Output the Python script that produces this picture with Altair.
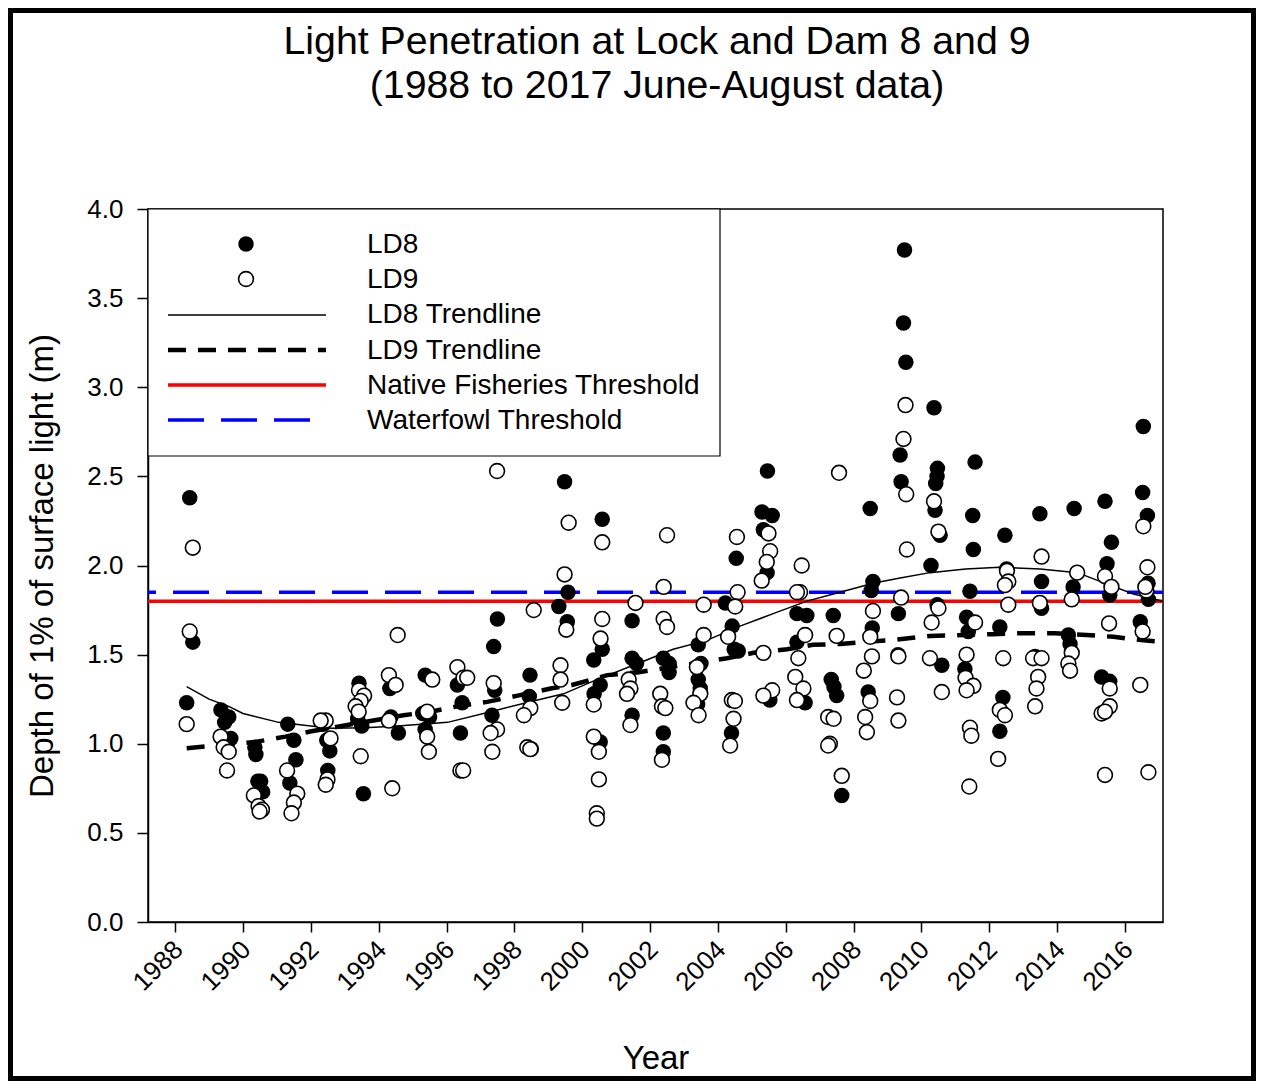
import altair as alt
import pandas as pd

# ---------------- data ----------------
ld8_year = [1988.43, 1988.52, 1988.34,
            1989.35, 1989.58, 1989.46, 1989.64,
            1990.35, 1990.38, 1990.52, 1990.44, 1990.58,
            1991.32, 1991.50, 1991.56, 1991.38,
            1992.38, 1992.47, 1992.56, 1992.50,
            1993.42, 1993.38, 1993.50, 1993.55,
            1994.33, 1994.36, 1994.58,
            1995.37, 1995.30, 1995.50, 1995.37,
            1996.32, 1996.46, 1996.41,
            1997.50, 1997.39, 1997.42, 1997.34,
            1998.46, 1998.44, 1998.50,
            1999.48, 1999.58, 1999.31, 1999.56,
            2000.59, 2000.59, 2000.34, 2000.53, 2000.35, 2000.53,
            2001.47, 2001.47, 2001.60, 2001.47,
            2002.39, 2002.56, 2002.56, 2002.39, 2002.39,
            2003.42, 2003.50, 2003.42, 2003.48, 2003.40,
            2004.54, 2004.22, 2004.42, 2004.48, 2004.60, 2004.40,
            2005.46, 2005.30, 2005.60, 2005.34, 2005.45, 2005.53,
            2006.33, 2006.62, 2006.33, 2006.57,
            2007.40, 2007.34, 2007.42, 2007.50, 2007.65,
            2008.49, 2008.57, 2008.52, 2008.55, 2008.43,
            2009.50, 2009.47, 2009.54, 2009.37, 2009.40, 2009.32, 2009.31,
            2010.37, 2010.47, 2010.46, 2010.42, 2010.40, 2010.55, 2010.28, 2010.46, 2010.60,
            2011.58, 2011.51, 2011.53, 2011.43, 2011.33, 2011.38, 2011.28,
            2012.46, 2012.51, 2012.31, 2012.40, 2012.31,
            2013.49, 2013.54, 2013.54, 2013.35,
            2014.50, 2014.47, 2014.33, 2014.38,
            2015.41, 2015.60, 2015.47, 2015.55, 2015.31, 2015.55,
            2016.54, 2016.52, 2016.66, 2016.68, 2016.69, 2016.45]
ld8_depth = [2.38, 1.57, 1.23,
             1.19, 1.15, 1.12, 1.03,
             0.98, 0.94, 0.79, 0.79, 0.73,
             1.11, 1.02, 0.91, 0.78,
             1.11, 1.02, 0.96, 0.85,
             1.34, 1.14, 1.10, 0.72,
             1.31, 1.15, 1.06,
             1.385, 1.17, 1.15, 1.08,
             1.33, 1.23, 1.06,
             1.70, 1.545, 1.30, 1.16,
             1.385, 1.265, 0.97,
             2.47, 1.85, 1.77, 1.685,
             2.26, 1.53, 1.47, 1.33, 1.28, 1.01,
             1.69, 1.48, 1.45, 1.16,
             1.48, 1.45, 1.40, 1.06, 0.955,
             1.555, 1.45, 1.36, 1.31, 1.22,
             2.04, 1.79, 1.66, 1.53, 1.52, 1.06,
             2.53, 2.30, 2.28, 2.20, 1.96, 1.245,
             1.73, 1.72, 1.57, 1.23,
             1.72, 1.36, 1.32, 1.27, 0.71,
             2.32, 1.91, 1.86, 1.65, 1.29,
             3.77, 3.36, 3.14, 2.62, 2.47, 1.73, 1.50,
             2.885, 2.545, 2.50, 2.46, 2.31, 2.17, 2.00, 1.78, 1.44,
             2.58, 2.28, 2.09, 1.855, 1.71, 1.63, 1.42,
             2.17, 1.98, 1.655, 1.26, 1.07,
             2.29, 1.91, 1.76, 1.49,
             2.32, 1.88, 1.61, 1.56,
             2.36, 2.13, 2.01, 1.835, 1.375, 1.35,
             2.78, 2.41, 2.28, 1.90, 1.81, 1.685]

ld9_year = [1988.52, 1988.43, 1988.34,
            1989.34, 1989.43, 1989.58, 1989.53,
            1990.32, 1990.46, 1990.56, 1990.49,
            1991.30, 1991.60, 1991.50, 1991.43,
            1992.44, 1992.29, 1992.58, 1992.49, 1992.44,
            1993.42, 1993.57, 1993.47, 1993.32, 1993.41, 1993.47,
            1994.56, 1994.30, 1994.50, 1994.30, 1994.40,
            1995.58, 1995.43, 1995.43, 1995.48,
            1996.32, 1996.50, 1996.61, 1996.41, 1996.49,
            1997.49, 1997.39, 1997.49, 1997.30, 1997.35,
            1998.57, 1998.47, 1998.28, 1998.38, 1998.47,
            1999.60, 1999.48, 1999.53, 1999.36, 1999.36, 1999.41,
            2000.59, 2000.59, 2000.54, 2000.34, 2000.34, 2000.49, 2000.49, 2000.43, 2000.43,
            2001.57, 2001.37, 2001.42, 2001.32, 2001.42,
            2002.50, 2002.40, 2002.40, 2002.50, 2002.30, 2002.35, 2002.45, 2002.35,
            2003.58, 2003.58, 2003.38, 2003.48, 2003.28, 2003.43,
            2004.56, 2004.58, 2004.51, 2004.30, 2004.41, 2004.50, 2004.46, 2004.36,
            2005.49, 2005.54, 2005.44, 2005.29, 2005.34, 2005.60, 2005.34,
            2006.47, 2006.42, 2006.33, 2006.57, 2006.37, 2006.28, 2006.52, 2006.33,
            2007.57, 2007.50, 2007.25, 2007.41, 2007.30, 2007.25, 2007.65,
            2008.57, 2008.49, 2008.54, 2008.30, 2008.49, 2008.34, 2008.39,
            2009.53, 2009.47, 2009.55, 2009.57, 2009.40, 2009.32, 2009.28, 2009.32,
            2010.37, 2010.50, 2010.50, 2010.30, 2010.25, 2010.60,
            2011.58, 2011.33, 2011.30, 2011.53, 2011.33, 2011.43, 2011.47, 2011.41,
            2012.52, 2012.56, 2012.46, 2012.56, 2012.41, 2012.31, 2012.46, 2012.26,
            2013.54, 2013.49, 2013.29, 2013.54, 2013.44, 2013.39, 2013.35,
            2014.59, 2014.43, 2014.43, 2014.33, 2014.38,
            2015.41, 2015.60, 2015.53, 2015.55, 2015.55, 2015.31, 2015.41, 2015.41,
            2016.54, 2016.66, 2016.63, 2016.60, 2016.52, 2016.45, 2016.69]
ld9_depth = [2.10, 1.63, 1.11,
             1.04, 0.98, 0.955, 0.85,
             0.71, 0.65, 0.63, 0.62,
             0.85, 0.72, 0.67, 0.61,
             1.13, 1.13, 1.03, 0.80, 0.77,
             1.30, 1.27, 1.24, 1.21, 1.18, 0.93,
             1.61, 1.385, 1.33, 1.13, 0.75,
             1.36, 1.18, 1.04, 0.955,
             1.43, 1.37, 1.37, 0.85, 0.85,
             2.53, 1.34, 1.08, 1.06, 0.955,
             1.75, 1.20, 1.16, 0.98, 0.97,
             2.24, 1.95, 1.64, 1.44, 1.36, 1.23,
             2.13, 1.70, 1.59, 1.22, 1.04, 0.955, 0.80, 0.61, 0.58,
             1.79, 1.36, 1.31, 1.28, 1.105,
             2.17, 1.88, 1.70, 1.655, 1.28, 1.21, 1.20, 0.91,
             1.78, 1.61, 1.43, 1.28, 1.23, 1.16,
             2.16, 1.85, 1.77, 1.60, 1.245, 1.24, 1.14, 0.99,
             2.18, 2.08, 2.02, 1.915, 1.51, 1.30, 1.27,
             2.00, 1.85, 1.85, 1.61, 1.48, 1.375, 1.31, 1.245,
             2.52, 1.605, 1.15, 1.14, 1.00, 0.99, 0.82,
             1.745, 1.60, 1.49, 1.41, 1.24, 1.15, 1.065,
             2.90, 2.71, 2.40, 2.09, 1.82, 1.49, 1.26, 1.13,
             2.36, 2.19, 1.76, 1.68, 1.48, 1.29,
             1.68, 1.50, 1.37, 1.325, 1.30, 1.09, 1.045, 0.76,
             1.97, 1.91, 1.89, 1.78, 1.48, 1.19, 1.16, 0.915,
             2.05, 1.79, 1.48, 1.48, 1.375, 1.31, 1.21,
             1.96, 1.81, 1.51, 1.45, 1.41,
             1.94, 1.88, 1.675, 1.31, 1.21, 1.17, 1.18, 0.825,
             2.22, 1.99, 1.86, 1.88, 1.63, 1.33, 0.84]

# trendlines
ld8_trend_year = [1988.34, 1989.0, 1989.58, 1990.0, 1991.05, 1992.0, 1992.6, 1993.6,
                  1994.56, 1996.03, 1997.3, 1998.47, 1999.45, 2000.43, 2001.9,
                  2002.68, 2003.67, 2004.65, 2005.63, 2006.62, 2007.6, 2008.57,
                  2009.37, 2010.25, 2011.3, 2012.3, 2013.5, 2014.6, 2015.55,
                  2016.25, 2017.12]
ld8_trend_depth = [1.32, 1.25, 1.21, 1.17, 1.12, 1.10, 1.087, 1.09,
                   1.10, 1.12, 1.18, 1.236, 1.28, 1.36, 1.47,
                   1.53, 1.58, 1.66, 1.73, 1.80, 1.85, 1.90,
                   1.93, 1.96, 1.98, 1.99, 1.98, 1.96, 1.89,
                   1.84, 1.80]
ld9_trend_year = [1988.34, 1990.37, 1991.25, 1992.02, 1994.13, 1994.73, 1995.53,
                  1996.32, 1997.2, 1998.1, 1999.07, 1999.7, 2000.74, 2001.62,
                  2004.27, 2005.05, 2006.04, 2006.8, 2007.6, 2009.28, 2010.25,
                  2012.1, 2012.9, 2013.9, 2014.86, 2015.66, 2016.54, 2017.19]
ld9_trend_depth = [0.975, 1.01, 1.04, 1.07, 1.14, 1.16, 1.18,
                   1.21, 1.235, 1.27, 1.31, 1.33, 1.385, 1.40,
                   1.48, 1.51, 1.53, 1.555, 1.56, 1.585, 1.605,
                   1.615, 1.62, 1.62, 1.61, 1.60, 1.58, 1.57]

native_fisheries = 1.80
waterfowl = 1.85

x_ticks = list(range(1988, 2017, 2))
y_ticks = [0.0, 0.5, 1.0, 1.5, 2.0, 2.5, 3.0, 3.5, 4.0]

title_lines = ["Light Penetration at Lock and Dam 8 and 9", "(1988 to 2017 June-August data)"]
legend_labels = ["LD8", "LD9", "LD8 Trendline", "LD9 Trendline",
                 "Native Fisheries Threshold", "Waterfowl Threshold"]

# ---------------- chart ----------------
FONT = "Liberation Sans"
W, H = 1015, 713

ld8 = pd.DataFrame({"year": ld8_year, "depth": ld8_depth})
ld9 = pd.DataFrame({"year": ld9_year, "depth": ld9_depth})
t8 = pd.DataFrame({"year": ld8_trend_year, "depth": ld8_trend_depth})
t9 = pd.DataFrame({"year": ld9_trend_year, "depth": ld9_trend_depth})
thr = pd.DataFrame({"native": [native_fisheries], "water": [waterfowl]})

xscale = alt.Scale(domain=[1987.2, 2017.12], nice=False, zero=False)
yscale = alt.Scale(domain=[0, 4], nice=False)

xaxis = alt.Axis(values=x_ticks, format="d", labelAngle=-45, labelAlign="right",
                 labelBaseline="top", labelPadding=4, labelOffset=-6, tickSize=10,
                 tickWidth=1.5, domainWidth=1.5, domainColor="black", tickColor="black",
                 labelFont=FONT, labelFontSize=26, labelColor="black", grid=False,
                 title="Year", titleFont=FONT, titleFontSize=33, titleFontWeight="normal",
                 titleColor="black", titleY=146, titleBaseline="alphabetic")
yaxis = alt.Axis(values=y_ticks, format=".1f", tickSize=11, tickWidth=1.5,
                 domainWidth=1.5, domainColor="black", tickColor="black",
                 labelFont=FONT, labelFontSize=26, labelColor="black", labelPadding=14,
                 grid=False, title="Depth of 1% of surface light (m)", titleFont=FONT,
                 titleFontSize=33, titleFontWeight="normal", titleColor="black",
                 titleX=-106, titleBaseline="middle")

X = alt.X("year:Q", scale=xscale, axis=xaxis)
Y = alt.Y("depth:Q", scale=yscale, axis=yaxis)

red = alt.Chart(thr).mark_rule(color="#ff0000", strokeWidth=3.5).encode(
    y=alt.Y("native:Q", scale=yscale))
blue = alt.Chart(thr).mark_rule(color="#0000ff", strokeWidth=3.5, strokeDash=[36, 17]).encode(
    y=alt.Y("water:Q", scale=yscale))

line8 = alt.Chart(t8).mark_line(color="black", strokeWidth=1.5, clip=True).encode(x=X, y=Y)
line9 = alt.Chart(t9).mark_line(color="black", strokeWidth=4.5, strokeDash=[18, 12],
                                clip=True).encode(x=X, y=Y)

pts8 = alt.Chart(ld8).mark_circle(size=240, color="black", opacity=1).encode(x=X, y=Y)
pts9 = alt.Chart(ld9).mark_point(shape="circle", size=220, filled=True, fill="white",
                                 stroke="black", strokeWidth=1.6, opacity=1).encode(x=X, y=Y)

one = pd.DataFrame({"k": [0]})

# legend box inside the plot, top-left
legend_layers = [
    alt.Chart(one).mark_rect(fill="white", stroke="black", strokeWidth=1.2).encode(
        x=alt.value(0), x2=alt.value(572), y=alt.value(0), y2=alt.value(247)),
    alt.Chart(one).mark_circle(size=240, color="black", opacity=1).encode(
        x=alt.value(98), y=alt.value(35)),
    alt.Chart(one).mark_point(shape="circle", size=220, filled=True, fill="white",
                              stroke="black", strokeWidth=1.6, opacity=1).encode(
        x=alt.value(98), y=alt.value(70)),
    alt.Chart(one).mark_rule(color="black", strokeWidth=1.5).encode(
        x=alt.value(20), x2=alt.value(178), y=alt.value(106)),
    alt.Chart(one).mark_rule(color="black", strokeWidth=4.5, strokeDash=[18, 12]).encode(
        x=alt.value(20), x2=alt.value(178), y=alt.value(141)),
    alt.Chart(one).mark_rule(color="#ff0000", strokeWidth=3.5).encode(
        x=alt.value(20), x2=alt.value(178), y=alt.value(176)),
    alt.Chart(one).mark_rule(color="#0000ff", strokeWidth=3.5, strokeDash=[36, 17]).encode(
        x=alt.value(20), x2=alt.value(163), y=alt.value(211)),
]
for i, lab in enumerate(legend_labels):
    legend_layers.append(
        alt.Chart(one).mark_text(align="left", baseline="middle", font=FONT, fontSize=28,
                                 color="black").encode(
            x=alt.value(219), y=alt.value(36 + 35.2 * i), text=alt.value(lab)))

# two-line chart title, centred over the plot
title_layers = []
for i, line in enumerate(title_lines):
    title_layers.append(
        alt.Chart(one).mark_text(align="center", baseline="middle", font=FONT, fontSize=39.3,
                                 color="black", clip=False).encode(
            x=alt.value(509), y=alt.value(-167 + 44 * i), text=alt.value(line)))

frame = alt.Chart(one).mark_rect(fill=None, stroke="black", strokeWidth=5, clip=False).encode(
    x=alt.value(-137.5), x2=alt.value(W + 93 - 2.5), y=alt.value(-198.5), y2=alt.value(H + 159 - 2.5))

chart = alt.layer(
    red, blue, line8, line9, pts8, pts9, *legend_layers, *title_layers, frame
).properties(
    width=W, height=H,
    padding={"left": 140, "top": 201, "right": 93, "bottom": 159},
    autosize=alt.AutoSizeParams(type="none"),
).configure(
    background="white"
).configure_view(
    stroke="black", strokeWidth=1.5
)

chart.save("out.html", embed_options={"renderer": "svg", "actions": False})
